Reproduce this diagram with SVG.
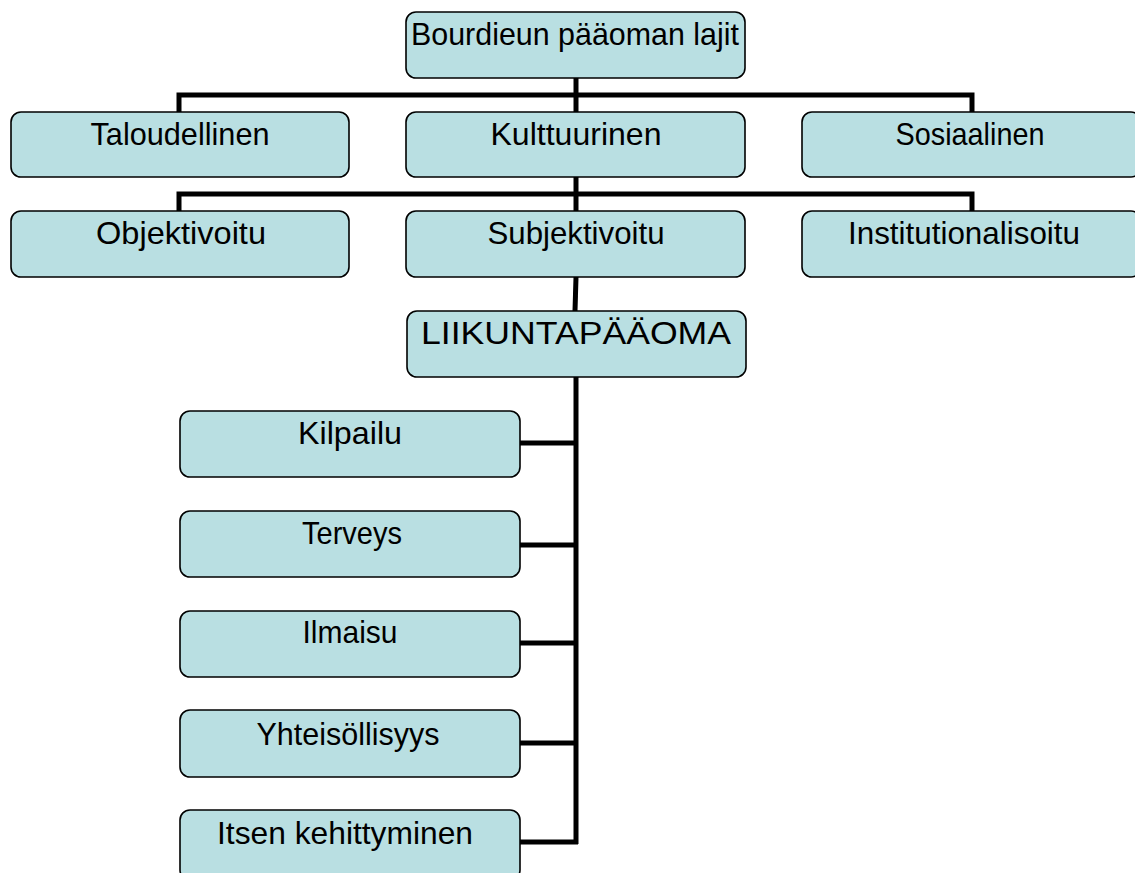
<svg xmlns="http://www.w3.org/2000/svg" width="1135" height="873" viewBox="0 0 1135 873">
<style>
.box{fill:#B9DFE2;stroke:#000;stroke-width:1.6}
.lbl{font-family:"Liberation Sans",Arial,sans-serif;font-size:32px;fill:#000;text-anchor:middle}
.con{stroke:#000;stroke-width:5;fill:none}
</style>
<rect width="1135" height="873" fill="#fff"/>
<g id="connectors">
<polyline class="con" points="576,78 576,112"/>
<polyline class="con" points="179,112 179,95 972,95 972,112"/>
<polyline class="con" points="576,177 576,211"/>
<polyline class="con" points="179,211 179,194 972,194 972,211"/>
<polyline class="con" points="576,277 575,311"/>
<polyline class="con" points="576,377 576,844"/>
<polyline class="con" points="520,443 576,443"/>
<polyline class="con" points="520,545 576,545"/>
<polyline class="con" points="520,643 576,643"/>
<polyline class="con" points="520,743 576,743"/>
<polyline class="con" points="520,842 578,842"/>
</g>
<g id="n-root"><rect class="box" x="406" y="12" width="339" height="66" rx="10"/><text class="lbl" x="575" y="45" textLength="328" lengthAdjust="spacingAndGlyphs">Bourdieun pääoman lajit</text></g>
<g id="n-taloudellinen"><rect class="box" x="11" y="112" width="338" height="65" rx="10"/><text class="lbl" x="180" y="145" textLength="179" lengthAdjust="spacingAndGlyphs">Taloudellinen</text></g>
<g id="n-kulttuurinen"><rect class="box" x="406" y="112" width="339" height="65" rx="10"/><text class="lbl" x="576" y="145" textLength="171" lengthAdjust="spacingAndGlyphs">Kulttuurinen</text></g>
<g id="n-sosiaalinen"><rect class="box" x="802" y="112" width="339" height="65" rx="10"/><text class="lbl" x="970" y="145" textLength="149" lengthAdjust="spacingAndGlyphs">Sosiaalinen</text></g>
<g id="n-objektivoitu"><rect class="box" x="11" y="211" width="338" height="66" rx="10"/><text class="lbl" x="181" y="244" textLength="170" lengthAdjust="spacingAndGlyphs">Objektivoitu</text></g>
<g id="n-subjektivoitu"><rect class="box" x="406" y="211" width="339" height="66" rx="10"/><text class="lbl" x="576" y="244" textLength="177" lengthAdjust="spacingAndGlyphs">Subjektivoitu</text></g>
<g id="n-institutionalisoitu"><rect class="box" x="802" y="211" width="339" height="66" rx="10"/><text class="lbl" x="964" y="244" textLength="232" lengthAdjust="spacingAndGlyphs">Institutionalisoitu</text></g>
<g id="n-liikuntapaaoma"><rect class="box" x="407" y="311" width="339" height="66" rx="10"/><text class="lbl" x="576" y="344" textLength="310" lengthAdjust="spacingAndGlyphs">LIIKUNTAPÄÄOMA</text></g>
<g id="n-kilpailu"><rect class="box" x="180" y="411" width="340" height="66" rx="10"/><text class="lbl" x="350" y="444" textLength="104" lengthAdjust="spacingAndGlyphs">Kilpailu</text></g>
<g id="n-terveys"><rect class="box" x="180" y="511" width="340" height="66" rx="10"/><text class="lbl" x="352" y="544" textLength="100" lengthAdjust="spacingAndGlyphs">Terveys</text></g>
<g id="n-ilmaisu"><rect class="box" x="180" y="611" width="340" height="66" rx="10"/><text class="lbl" x="350" y="643" textLength="95" lengthAdjust="spacingAndGlyphs">Ilmaisu</text></g>
<g id="n-yhteisollisyys"><rect class="box" x="180" y="710" width="340" height="67" rx="10"/><text class="lbl" x="348" y="745" textLength="183" lengthAdjust="spacingAndGlyphs">Yhteisöllisyys</text></g>
<g id="n-itsen"><rect class="box" x="180" y="810" width="340" height="70" rx="10"/><text class="lbl" x="345" y="844" textLength="256" lengthAdjust="spacingAndGlyphs">Itsen kehittyminen</text></g>
</svg>
